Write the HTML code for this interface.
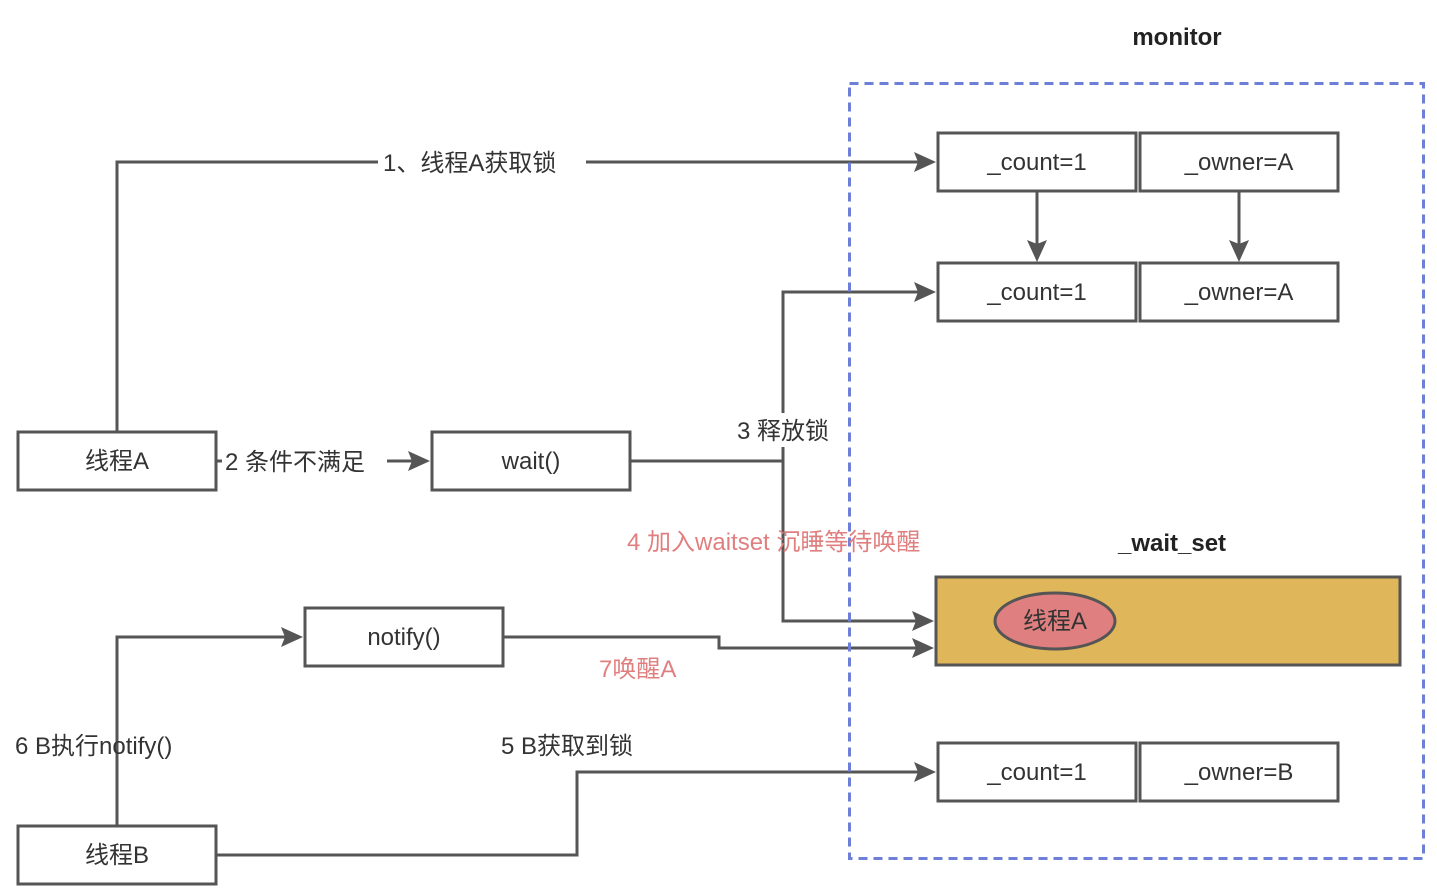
<!DOCTYPE html>
<html><head><meta charset="utf-8"><style>
html,body{margin:0;padding:0;background:#fff;width:1437px;height:890px;overflow:hidden}
svg text{font-family:"Liberation Sans","Noto Sans CJK SC",sans-serif}
</style></head><body>
<svg width="1437" height="890" viewBox="0 0 1437 890" xmlns="http://www.w3.org/2000/svg">
<defs>
<marker id="ar" markerWidth="10" markerHeight="10" refX="9" refY="5" orient="auto" markerUnits="userSpaceOnUse" viewBox="0 0 10 10">
</marker>
</defs>
<g fill="none" stroke="#555" stroke-width="3">
<!-- lines -->
<polyline points="117,432 117,162 918,162"/>
<polyline points="216,461 412,461"/>
<polyline points="630,461 783,461 783,292 918,292"/>
<polyline points="783,461 783,621 916,621"/>
<polyline points="503,637 719,637 719,648 916,648"/>
<polyline points="117,826 117,637 285,637"/>
<polyline points="216,855 577,855 577,772 918,772"/>
<line x1="1037" y1="191" x2="1037" y2="245"/>
<line x1="1239" y1="191" x2="1239" y2="245"/>
</g>
<g fill="#555">
<polygon points="936,162 914,152 918,162 914,172"/>
<polygon points="936,292 914,282 918,292 914,302"/>
<polygon points="934,621 912,611 916,621 912,631"/>
<polygon points="934,648 912,638 916,648 912,658"/>
<polygon points="936,772 914,762 918,772 914,782"/>
<polygon points="430,461 408,451 412,461 408,471"/>
<polygon points="303,637 281,627 285,637 281,647"/>
<polygon points="1037,262 1027,240 1037,244 1047,240"/>
<polygon points="1239,262 1229,240 1239,244 1249,240"/>
</g>
<!-- monitor dashed -->
<rect x="849.5" y="83.5" width="574" height="775" fill="none" stroke="#6d7fd6" stroke-width="3" stroke-dasharray="9,6"/>
<!-- wait_set -->
<rect x="936" y="577" width="464" height="88" fill="#dfb75a" stroke="#555" stroke-width="3"/>
<ellipse cx="1055" cy="621" rx="60" ry="28" fill="#e07f7f" stroke="#555" stroke-width="3"/>
<!-- boxes -->
<g fill="#fff" stroke="#555" stroke-width="3">
<rect x="938" y="133" width="198" height="58"/><rect x="1140" y="133" width="198" height="58"/>
<rect x="938" y="263" width="198" height="58"/><rect x="1140" y="263" width="198" height="58"/>
<rect x="938" y="743" width="198" height="58"/><rect x="1140" y="743" width="198" height="58"/>
<rect x="18" y="432" width="198" height="58"/>
<rect x="432" y="432" width="198" height="58"/>
<rect x="305" y="608" width="198" height="58"/>
<rect x="18" y="826" width="198" height="58"/>
</g>
<!-- label backgrounds -->
<g fill="#fff">
<rect x="378" y="146" width="208" height="32"/>
<rect x="222" y="445" width="165" height="32"/>
<rect x="734" y="413" width="112" height="34"/>
</g>
<g font-size="24" fill="#333" text-anchor="middle">
<text x="1037" y="170">_count=1</text><text x="1239" y="170">_owner=A</text>
<text x="1037" y="300">_count=1</text><text x="1239" y="300">_owner=A</text>
<text x="1037" y="780">_count=1</text><text x="1239" y="780">_owner=B</text>
<text x="117" y="469">线程A</text>
<text x="531" y="469">wait()</text>
<text x="404" y="645">notify()</text>
<text x="117" y="863">线程B</text>
<text x="1055" y="629">线程A</text>
</g>
<g font-size="24" fill="#333">
<text x="383" y="171">1、线程A获取锁</text>
<text x="225" y="470">2 条件不满足</text>
<text x="737" y="439">3 释放锁</text>
<text x="15" y="754">6 B执行notify()</text>
<text x="501" y="754">5 B获取到锁</text>
</g>
<g font-size="24" fill="#e07f7f">
<text x="627" y="550">4 加入waitset 沉睡等待唤醒</text>
<text x="599" y="677">7唤醒A</text>
</g>
<g font-size="24" font-weight="bold" fill="#222" text-anchor="middle">
<text x="1177" y="45">monitor</text>
<text x="1172" y="551">_wait_set</text>
</g>
</svg>
</body></html>
